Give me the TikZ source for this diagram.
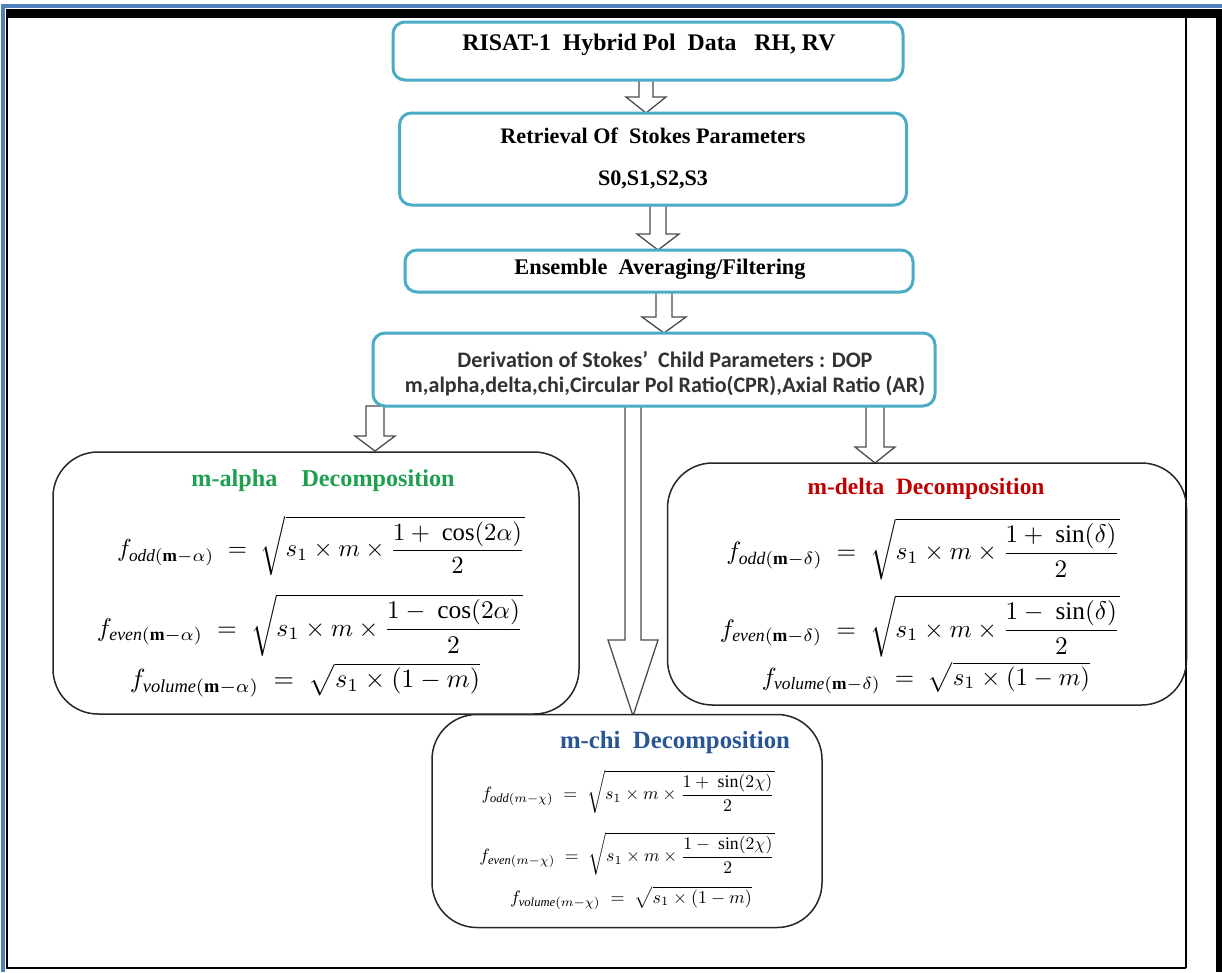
\documentclass[tikz,border=0pt]{standalone}
\usepackage{fontspec}
\setmainfont{Liberation Serif}
\newfontfamily\calib{Carlito}
\usepackage{amsmath}
\usepackage{graphicx}
\definecolor{boxteal}{RGB}{75,172,198}
\definecolor{frameblue}{RGB}{79,129,189}
\definecolor{tgreen}{RGB}{30,160,80}
\definecolor{tred}{RGB}{192,0,0}
\definecolor{tblue}{RGB}{40,85,150}
\definecolor{dtext}{RGB}{50,50,50}
\tikzset{
  tbox/.style={draw=boxteal, line width=3pt, rounded corners=12pt, fill=white, inner sep=0pt},
  dbox/.style={draw=black!85, line width=1.5pt, rounded corners=45pt, inner sep=0pt},
  barrow/.style={draw=black!70, line width=1.3pt, fill=white, line join=miter},
  txt/.style={inner sep=0pt, anchor=center}
}
% x, ytop, yhead, ytip, shaft half, head half
\newcommand{\blockarr}[6]{\draw[barrow] (#1-#5,#2) -- (#1+#5,#2) -- (#1+#5,#3) -- (#1+#6,#3) -- (#1,#4) -- (#1-#6,#3) -- (#1-#5,#3) -- cycle;}
\begin{document}
\begin{tikzpicture}[x=1pt,y=-1pt]
\useasboundingbox (0,0) rectangle (1222,972);
\fill[white] (0,0) rectangle (1222,972);
% frame
\fill[frameblue] (1,4) rectangle (1222,8);
\fill[frameblue] (1,4) rectangle (5,972);
\fill[black] (6,9) rectangle (1222,18);
\fill[black] (6,9) rectangle (8,969);
\draw[black, line width=1.5pt] (7,968) -- (1186,968);
\draw[black, line width=1.5pt] (1186,18) -- (1186,968);
\fill[black] (1216,9) rectangle (1222,972);

% arrows (drawn before boxes)
\blockarr{646}{80}{97}{113}{7}{20}
\blockarr{658}{205}{234}{250}{8}{21}
\blockarr{664}{292}{317}{333}{8}{22}
\blockarr{375}{406}{436}{451}{9}{20}
\blockarr{875}{406}{447}{463}{9}{20}
\blockarr{633}{406}{640}{716}{8}{25}

% teal boxes
\node[tbox, minimum width=510pt, minimum height=58pt] (b1) at (648,51) {};
\node[txt] (t1) at (649,45) {\resizebox{373pt}{!}{\bfseries RISAT-1\ \ Hybrid Pol\ \ Data\ \ \ RH, RV}};

\node[tbox, minimum width=507pt, minimum height=92pt] (b2) at (653,159) {};
\node[txt] (t2a) at (653,136) {\resizebox{305pt}{!}{\bfseries Retrieval Of\ \ Stokes Parameters}};
\node[txt] (t2b) at (653,180) {\resizebox{110pt}{!}{\bfseries S0,S1,S2,S3}};

\node[tbox, minimum width=508pt, minimum height=42pt] (b3) at (659,271) {};
\node[txt] (t3) at (660,269) {\resizebox{291pt}{!}{\bfseries Ensemble\ \ Averaging/Filtering}};

\node[tbox, minimum width=562pt, minimum height=73pt] (b4) at (654,369.5) {};
\node[txt, text=dtext] (t4a) at (665,360) {\resizebox{415pt}{!}{\calib\bfseries Derivation of Stokes’\ \ Child Parameters : DOP}};
\node[txt, text=dtext] (t4b) at (665,386) {\resizebox{520pt}{!}{\calib\bfseries m,alpha,delta,chi,Circular Pol Ratio(CPR),Axial Ratio (AR)}};

% decomposition boxes
\node[dbox, minimum width=526pt, minimum height=262pt] (ma) at (316,583) {};
\node[dbox, minimum width=519pt, minimum height=242pt] (md) at (927,584) {};
\node[dbox, fill=white, minimum width=390pt, minimum height=213pt] (mc) at (627,821) {};

% m-alpha
\node[txt, text=tgreen] (mat) at (323,481) {\resizebox{263pt}{!}{\bfseries m-alpha\ \ \ \ Decomposition}};
\node[txt] (ma1) at (321,546) {\resizebox{408pt}{!}{$f_{\mathit{odd}(\mathbf{m}-\alpha)} \;=\; \sqrt{s_1\times m\times \dfrac{1+\ \cos(2\alpha)}{2}}$}};
\node[txt] (ma2) at (310,625) {\resizebox{426pt}{!}{$f_{\mathit{even}(\mathbf{m}-\alpha)} \;=\; \sqrt{s_1\times m\times \dfrac{1-\ \cos(2\alpha)}{2}}$}};
\node[txt] (ma3) at (305,680) {\resizebox{350pt}{!}{$f_{\mathit{volume}(\mathbf{m}-\alpha)} \;=\; \sqrt{s_1\times(1-m)}$}};

% m-delta
\node[txt, text=tred] (mdt) at (926,489) {\resizebox{237pt}{!}{\bfseries m-delta\ \ Decomposition}};
\node[txt] (md1) at (923,549) {\resizebox{393pt}{!}{$f_{\mathit{odd}(\mathbf{m}-\delta)} \;=\; \sqrt{s_1\times m\times \dfrac{1+\ \sin(\delta)}{2}}$}};
\node[txt] (md2) at (920,626) {\resizebox{400pt}{!}{$f_{\mathit{even}(\mathbf{m}-\delta)} \;=\; \sqrt{s_1\times m\times \dfrac{1-\ \sin(\delta)}{2}}$}};
\node[txt] (md3) at (926,678) {\resizebox{328pt}{!}{$f_{\mathit{volume}(\mathbf{m}-\delta)} \;=\; \sqrt{s_1\times(1-m)}$}};

% m-chi
\node[txt, text=tblue] (mct) at (675,743) {\resizebox{230pt}{!}{\bfseries m-chi\ \ Decomposition}};
\node[txt] (mc1) at (628,792) {\resizebox{293pt}{!}{$f_{\mathit{odd}(m-\chi)} \;=\; \sqrt{s_1\times m\times \dfrac{1+\ \sin(2\chi)}{2}}$}};
\node[txt] (mc2) at (627,854) {\resizebox{295pt}{!}{$f_{\mathit{even}(m-\chi)} \;=\; \sqrt{s_1\times m\times \dfrac{1-\ \sin(2\chi)}{2}}$}};
\node[txt] (mc3) at (631,898) {\resizebox{242pt}{!}{$f_{\mathit{volume}(m-\chi)} \;=\; \sqrt{s_1\times(1-m)}$}};
\end{tikzpicture}
\end{document}
